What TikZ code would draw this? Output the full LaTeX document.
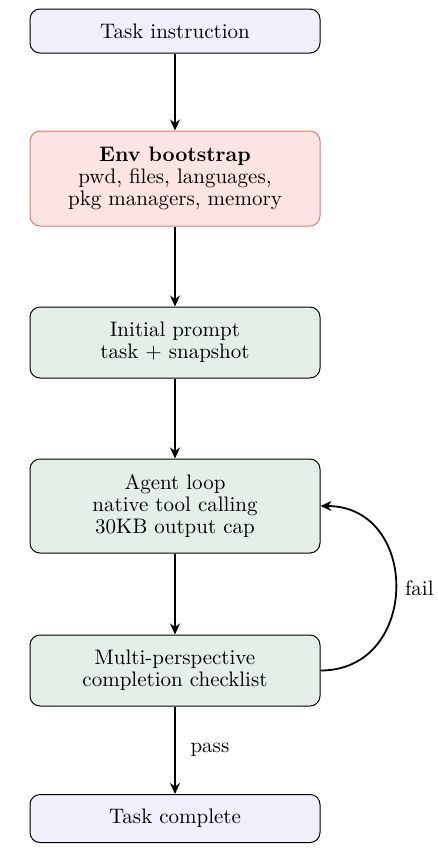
\documentclass[tikz,border=0pt]{standalone}
\usetikzlibrary{arrows.meta}
\definecolor{bluefill}{HTML}{F0F0FC}
\definecolor{pinkfill}{HTML}{FBE4E3}
\definecolor{pinkline}{HTML}{E5776C}
\definecolor{greenfill}{HTML}{E6EFE7}
\begin{document}
\begin{tikzpicture}[x=0.5pt,y=-0.5pt,
  box/.style={draw, rounded corners=5pt, minimum width=145pt, align=center,
    font=\fontsize{10.5}{11}\selectfont, line width=0.5pt, inner sep=2pt},
  lbl/.style={font=\fontsize{10.5}{11}\selectfont},
  arr/.style={-{Stealth[length=5.5pt,width=5pt]}, line width=0.9pt}]
\useasboundingbox (0,0) rectangle (438,858);
\node[box, fill=bluefill, minimum height=22pt] (ti) at (175,31) {Task instruction};
\node[box, fill=pinkfill, draw=pinkline, minimum height=47.5pt] (env) at (175,178.5) {\textbf{Env bootstrap}\\pwd, files, languages,\\pkg managers, memory};
\node[box, fill=greenfill, minimum height=35.5pt] (ip) at (175,342.5) {Initial prompt\\task + snapshot};
\node[box, fill=greenfill, minimum height=47pt] (al) at (175,506) {Agent loop\\native tool calling\\30KB output cap};
\node[box, fill=greenfill, minimum height=35.5pt] (mp) at (175,670.5) {Multi-perspective\\completion checklist};
\node[box, fill=bluefill, minimum height=24pt] (tc) at (175,818.5) {Task complete};
\draw[arr] (ti) -- (env);
\draw[arr] (env) -- (ip);
\draw[arr] (ip) -- (al);
\draw[arr] (al) -- (mp);
\draw[arr] (mp) -- node[right=4pt, lbl] (pass) {pass} (tc);
\draw[arr] (mp.east) .. controls +(100,0) and +(100,0) .. node[right=1pt, lbl] (fail) {fail} (al.east);
\end{tikzpicture}
\end{document}
